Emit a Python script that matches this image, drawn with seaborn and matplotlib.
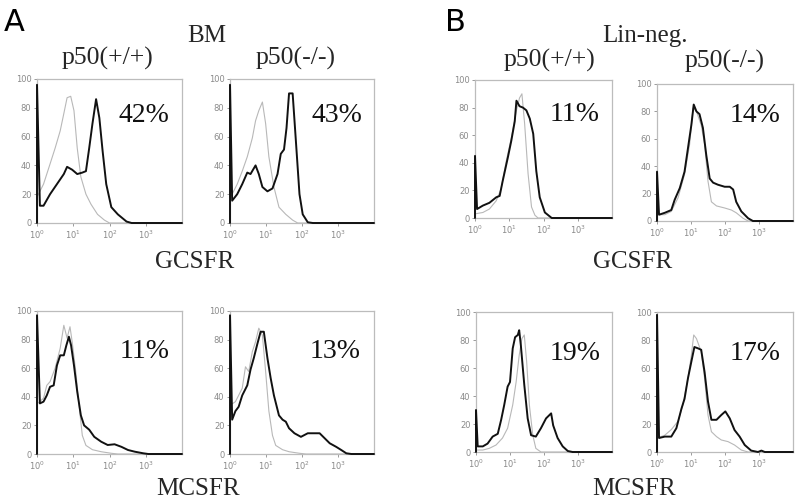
import numpy as np
import pandas as pd
import matplotlib
matplotlib.use("Agg")
import matplotlib.pyplot as plt
import seaborn as sns

# Histogram traces: x in decades (log10 of fluorescence), y = % of max
# "st" = stained (black), "ct" = isotype control (grey)
a1_st_x = [0, 0, 0.08, 0.18, 0.36, 0.55, 0.74, 0.83, 0.97, 1.11, 1.25, 1.35, 1.44, 1.53, 1.63, 1.72, 1.81, 1.91, 2.05, 2.23, 2.47, 2.61, 4.0]
a1_st_y = [0, 96, 12, 12, 20, 27, 34, 39, 37, 34, 35, 36, 52, 69, 86, 73, 50, 27, 11, 6, 1, 0, 0]
a1_ct_x = [0, 0.18, 0.36, 0.5, 0.64, 0.74, 0.83, 0.93, 1.02, 1.11, 1.21, 1.35, 1.49, 1.67, 1.86, 2.0, 4.0]
a1_ct_y = [18, 27, 41, 52, 64, 76, 87, 88, 78, 52, 32, 20, 13, 6, 2, 0, 0]

a2_st_x = [0, 0, 0.06, 0.2, 0.34, 0.48, 0.57, 0.71, 0.8, 0.9, 1.04, 1.18, 1.32, 1.41, 1.5, 1.57, 1.64, 1.74, 1.83, 1.93, 2.02, 2.16, 2.3, 4.0]
a2_st_y = [0, 96, 15.5, 20, 27, 35, 34, 40, 34, 25, 22, 24, 34, 48, 51, 66, 90, 90, 57, 20, 6, 0.5, 0, 0]
a2_ct_x = [0, 0.2, 0.34, 0.48, 0.62, 0.71, 0.8, 0.9, 0.99, 1.08, 1.22, 1.36, 1.55, 1.74, 1.88, 4.0]
a2_ct_y = [17, 27, 36, 46, 59, 71, 78, 84, 69, 46, 25, 11, 6, 2, 0, 0]

b1_st_x = [0, 0, 0.06, 0.23, 0.42, 0.62, 0.72, 0.81, 0.96, 1.06, 1.16, 1.21, 1.3, 1.4, 1.5, 1.6, 1.7, 1.79, 1.89, 2.04, 2.24, 4.0]
b1_st_y = [0, 45, 6.5, 9, 11, 15, 16, 27, 44, 56, 70, 85, 81, 80, 78, 72, 61, 34, 15, 4, 0, 0]
b1_ct_x = [0, 0.23, 0.42, 0.62, 0.76, 0.91, 1.06, 1.21, 1.3, 1.37, 1.45, 1.55, 1.65, 1.75, 1.84, 4.0]
b1_ct_y = [3, 4, 6.5, 12.5, 21, 41, 58, 78, 87, 90, 68, 32, 8, 2, 0, 0]

b2_st_x = [0, 0, 0.06, 0.23, 0.42, 0.52, 0.67, 0.81, 0.91, 1.01, 1.08, 1.16, 1.25, 1.35, 1.45, 1.55, 1.65, 1.79, 1.99, 2.14, 2.24, 2.33, 2.48, 2.68, 2.82, 4.0]
b2_st_y = [0, 36, 4.6, 6, 8, 15.5, 24, 36, 53, 70, 85, 80, 78, 68, 48, 31, 28, 26.5, 25, 25, 23, 14, 7, 2, 0, 0]
b2_ct_x = [0, 0.23, 0.42, 0.62, 0.81, 0.96, 1.06, 1.16, 1.3, 1.4, 1.5, 1.6, 1.75, 1.99, 2.19, 2.33, 2.53, 2.68, 4.0]
b2_ct_y = [4.6, 4.6, 7, 17, 34, 56, 82.5, 80, 70, 56, 29, 14, 11, 9.5, 8, 6, 2, 0, 0]

a3_st_x = [0, 0, 0.08, 0.18, 0.27, 0.36, 0.46, 0.55, 0.64, 0.74, 0.81, 0.88, 0.94, 1.02, 1.11, 1.21, 1.3, 1.44, 1.58, 1.77, 1.95, 2.14, 2.33, 2.51, 2.7, 2.93, 3.07, 4.0]
a3_st_y = [0, 97, 35.4, 36.6, 41, 47, 48, 62, 69, 69, 76, 82, 76, 62, 43.6, 27, 20, 17, 12, 8.6, 6.3, 6.8, 5, 2.8, 1.6, 0.5, 0, 0]
a3_ct_x = [0, 0.18, 0.27, 0.36, 0.5, 0.64, 0.74, 0.83, 0.91, 0.97, 1.07, 1.16, 1.25, 1.35, 1.53, 1.77, 2.05, 2.23, 4.0]
a3_ct_y = [35, 39, 48, 50.6, 60, 74, 90, 81, 89, 78.5, 57.6, 34, 13, 6, 3, 1.6, 0.5, 0, 0]

a4_st_x = [0, 0, 0.06, 0.15, 0.24, 0.34, 0.48, 0.57, 0.66, 0.76, 0.85, 0.94, 1.04, 1.13, 1.22, 1.36, 1.46, 1.55, 1.64, 1.79, 1.97, 2.16, 2.3, 2.49, 2.63, 2.77, 2.95, 3.09, 3.23, 3.37, 4.0]
a4_st_y = [0, 97, 24, 30, 33, 41, 48, 59, 67, 77, 85.5, 85.5, 67, 53, 41, 27, 24, 22.6, 18, 14.5, 12, 14.5, 14.5, 14.5, 11, 7.5, 5, 2.8, 0.5, 0, 0]
a4_ct_x = [0, 0.15, 0.24, 0.34, 0.43, 0.52, 0.62, 0.71, 0.8, 0.9, 0.99, 1.08, 1.18, 1.27, 1.46, 1.64, 1.93, 2.11, 4.0]
a4_ct_y = [34, 36.6, 41, 46, 61, 57.6, 71.6, 78.5, 88, 83, 57.6, 30, 13, 6, 3, 1.6, 0.5, 0, 0]

b3_st_x = [0, 0, 0.05, 0.2, 0.34, 0.49, 0.64, 0.74, 0.83, 0.93, 1.0, 1.08, 1.15, 1.23, 1.27, 1.32, 1.42, 1.52, 1.62, 1.76, 1.91, 2.06, 2.21, 2.27, 2.4, 2.55, 2.7, 2.84, 4.0]
b3_st_y = [0, 30, 4, 4, 6, 11, 13, 23, 33.6, 46.7, 50, 74, 82, 83.6, 87, 76, 48, 24, 12, 11, 17, 24, 27.6, 19, 10, 4, 0.7, 0, 0]
b3_ct_x = [0, 0.2, 0.39, 0.59, 0.78, 0.93, 1.08, 1.18, 1.27, 1.35, 1.42, 1.49, 1.57, 1.67, 1.76, 1.91, 4.0]
b3_ct_y = [1.4, 1.4, 2.6, 5, 10, 17, 33.6, 50, 69, 81, 83.6, 64.5, 33.6, 12, 2.6, 0, 0]

b4_st_x = [0, 0, 0.06, 0.23, 0.42, 0.57, 0.72, 0.81, 0.91, 1.01, 1.1, 1.21, 1.3, 1.4, 1.5, 1.6, 1.75, 1.89, 2.01, 2.14, 2.28, 2.43, 2.58, 2.77, 2.97, 3.07, 3.17, 4.0]
b4_st_y = [0, 98, 10, 11, 11, 17, 31, 38, 52.6, 64.5, 75, 74, 73, 57, 36, 23, 23, 26.4, 29, 24, 15.7, 11, 5, 1, 0, 1, 0, 0]
b4_ct_x = [0, 0.23, 0.42, 0.62, 0.76, 0.91, 1.01, 1.08, 1.16, 1.3, 1.4, 1.5, 1.6, 1.75, 1.89, 2.09, 2.28, 2.48, 2.68, 4.0]
b4_ct_y = [10, 12, 16, 22, 33.6, 52.6, 69, 83.6, 81, 71.7, 52.6, 26.4, 14.5, 11, 8.6, 7.4, 5, 1.4, 0, 0]

percent_labels = ["42%", "43%", "11%", "14%", "11%", "13%", "19%", "17%"]
y_ticks = [0, 20, 40, 60, 80, 100]
x_ticks = [1, 10, 100, 1000]
x_ticklabels = ["$10^0$", "$10^1$", "$10^2$", "$10^3$"]

sns.set_theme(style="white")
plt.rcParams["font.family"] = ["DejaVu Sans"]
plt.rcParams["mathtext.fontset"] = "dejavusans"

W, H = 799, 500
fig = plt.figure(figsize=(W / 100, H / 100), dpi=100)
fig.patch.set_facecolor("white")


def px_axes(l, r, t, b):
    return fig.add_axes([l / W, 1 - b / H, (r - l) / W, (b - t) / H])


def ftext(x, y, s, **kw):
    fig.text(x / W, 1 - y / H, s, **kw)


# (left, right, top, bottom) in pixels, then traces
panels = [
    ((37, 182, 79, 223), a1_st_x, a1_st_y, a1_ct_x, a1_ct_y, (144, 122)),
    ((230, 374, 79, 223), a2_st_x, a2_st_y, a2_ct_x, a2_ct_y, (337, 122)),
    ((475, 612, 80, 218), b1_st_x, b1_st_y, b1_ct_x, b1_ct_y, (575, 121)),
    ((657, 793, 84, 221), b2_st_x, b2_st_y, b2_ct_x, b2_ct_y, (755, 122)),
    ((37, 182, 311, 454), a3_st_x, a3_st_y, a3_ct_x, a3_ct_y, (145, 358)),
    ((230, 374, 311, 454), a4_st_x, a4_st_y, a4_ct_x, a4_ct_y, (335, 358)),
    ((476, 612, 312, 452), b3_st_x, b3_st_y, b3_ct_x, b3_ct_y, (575, 360)),
    ((657, 793, 312, 452), b4_st_x, b4_st_y, b4_ct_x, b4_ct_y, (755, 360)),
]

serif = "Liberation Serif"
for i, (box, sx, sy, cx, cy, ppos) in enumerate(panels):
    ax = px_axes(*box)
    ctrl = pd.DataFrame({"fl": 10 ** np.array(cx), "count": cy})
    stain = pd.DataFrame({"fl": 10 ** np.array(sx), "count": sy})
    sns.lineplot(data=ctrl, x="fl", y="count", ax=ax, color="#b8b8b8", lw=0.8,
                 estimator=None, sort=False, legend=False)
    # the first-channel spike sits on the y axis: don't clip it
    sns.lineplot(data=stain, x="fl", y="count", ax=ax, color="#111111", lw=1.4,
                 estimator=None, sort=False, legend=False, clip_on=False, zorder=3)
    ax.set_xscale("log")
    ax.set_xlim(1, 1e4)
    ax.set_ylim(0, 100)
    ax.set_xticks(x_ticks)
    ax.set_xticklabels(x_ticklabels)
    ax.minorticks_off()
    ax.set_yticks(y_ticks)
    ax.set_xlabel("")
    ax.set_ylabel("")
    ax.tick_params(axis="both", labelsize=6, colors="#8a8a8a", length=2, width=0.6, pad=2,
                   left=True, bottom=True)
    for sp in ax.spines.values():
        sp.set_color("#bcbcbc")
        sp.set_linewidth(0.9)
        sp.set_zorder(1)
    ftext(ppos[0], ppos[1], percent_labels[i], ha="center", va="baseline",
          fontsize=20, family=serif, color="#111111")

# panel letters and headers
ftext(14, 31, "A", ha="center", va="baseline", fontsize=22, color="black")
ftext(455, 31, "B", ha="center", va="baseline", fontsize=22, color="black")
ftext(207, 42, "BM", ha="center", va="baseline", fontsize=18, family=serif)
ftext(107, 65, "p50(+/+)", ha="center", va="baseline", fontsize=18.5, family=serif)
ftext(296, 65, "p50(-/-)", ha="center", va="baseline", fontsize=18.5, family=serif)
ftext(645, 42, "Lin-neg.", ha="center", va="baseline", fontsize=18, family=serif)
ftext(550, 67, "p50(+/+)", ha="center", va="baseline", fontsize=18.5, family=serif)
ftext(725, 68, "p50(-/-)", ha="center", va="baseline", fontsize=18.5, family=serif)
ftext(195, 268, "GCSFR", ha="center", va="baseline", fontsize=18, family=serif)
ftext(633, 268, "GCSFR", ha="center", va="baseline", fontsize=18, family=serif)
ftext(198, 495, "MCSFR", ha="center", va="baseline", fontsize=18, family=serif)
ftext(634, 495, "MCSFR", ha="center", va="baseline", fontsize=18, family=serif)

fig.savefig("out.png", dpi=100)
